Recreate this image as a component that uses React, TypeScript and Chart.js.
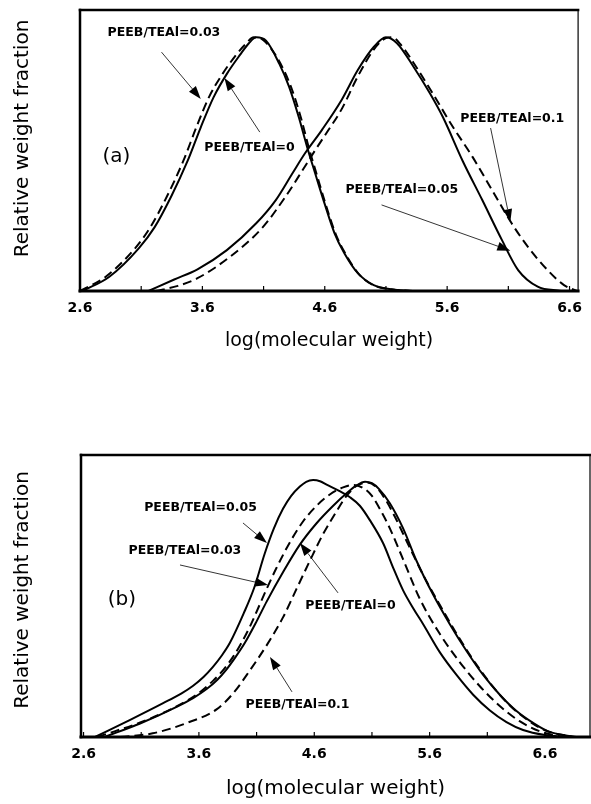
import React, { useEffect, useRef } from 'react';
import { Chart, registerables } from 'chart.js';

Chart.register(...registerables);

// ---------- Panel (a) data ----------
const aLogMW_0 = [2.62, 2.84, 3.08, 3.21, 3.345, 3.48, 3.586, 3.693, 3.80, 3.907, 3.98, 4.04, 4.12, 4.228, 4.308, 4.388, 4.455, 4.522, 4.60, 4.68, 4.76, 4.87, 5.0, 5.14, 5.32];
const aFrac_0 = [0, 0.056, 0.167, 0.25, 0.37, 0.51, 0.64, 0.76, 0.85, 0.924, 0.97, 0.993, 0.98, 0.89, 0.80, 0.68, 0.565, 0.46, 0.34, 0.226, 0.148, 0.07, 0.023, 0.007, 0];

const aLogMW_003 = [2.60, 2.81, 3.05, 3.175, 3.31, 3.445, 3.55, 3.655, 3.765, 3.875, 3.95, 4.02, 4.09, 4.16, 4.26, 4.335, 4.41, 4.47, 4.535, 4.61, 4.69, 4.77, 4.875, 5.0, 5.15, 5.3];
const aFrac_003 = [0, 0.056, 0.167, 0.25, 0.37, 0.51, 0.64, 0.76, 0.85, 0.924, 0.965, 0.993, 0.985, 0.95, 0.87, 0.785, 0.67, 0.56, 0.455, 0.335, 0.222, 0.145, 0.068, 0.022, 0.006, 0];

const aLogMW_005 = [3.16, 3.37, 3.56, 3.80, 4.04, 4.20, 4.335, 4.44, 4.576, 4.74, 4.87, 5.0, 5.10, 5.19, 5.325, 5.459, 5.566, 5.726, 5.887, 6.047, 6.18, 6.34, 6.53];
const aFrac_005 = [0, 0.045, 0.085, 0.16, 0.265, 0.356, 0.46, 0.54, 0.63, 0.75, 0.865, 0.955, 0.993, 0.97, 0.878, 0.774, 0.68, 0.51, 0.356, 0.2, 0.082, 0.017, 0];

const aLogMW_01 = [3.22, 3.40, 3.56, 3.826, 4.094, 4.28, 4.415, 4.52, 4.63, 4.736, 4.87, 5.0, 5.1, 5.15, 5.22, 5.35, 5.48, 5.646, 5.806, 5.967, 6.127, 6.26, 6.42, 6.555, 6.66];
const aFrac_01 = [0, 0.02, 0.05, 0.134, 0.25, 0.37, 0.47, 0.55, 0.63, 0.71, 0.84, 0.945, 0.99, 0.993, 0.965, 0.875, 0.775, 0.643, 0.526, 0.395, 0.265, 0.173, 0.082, 0.023, 0];

// ---------- Panel (b) data ----------
const bLogMW_005 = [2.70, 3.0, 3.29, 3.45, 3.55, 3.64, 3.72, 3.80, 3.87, 3.99, 4.08, 4.17, 4.25, 4.33, 4.40, 4.475, 4.53, 4.59, 4.65, 4.707, 4.82, 4.91, 4.995, 5.08, 5.197, 5.284, 5.37, 5.46, 5.544, 5.689, 5.833, 5.977, 6.12, 6.266, 6.41, 6.6, 6.78];
const bFrac_005 = [0, 0.06, 0.12, 0.155, 0.182, 0.213, 0.248, 0.29, 0.335, 0.44, 0.53, 0.65, 0.74, 0.81, 0.855, 0.888, 0.905, 0.911, 0.907, 0.895, 0.872, 0.85, 0.82, 0.77, 0.687, 0.60, 0.52, 0.455, 0.40, 0.30, 0.22, 0.15, 0.095, 0.053, 0.025, 0.007, 0];

const bLogMW_003 = [2.72, 3.147, 3.435, 3.58, 3.724, 3.81, 3.897, 3.97, 4.04, 4.187, 4.273, 4.388, 4.504, 4.62, 4.735, 4.85, 4.937, 5.02, 5.10, 5.18, 5.255, 5.37, 5.515, 5.689, 5.862, 6.035, 6.208, 6.38, 6.555, 6.75];
const bFrac_003 = [0, 0.06, 0.115, 0.15, 0.20, 0.237, 0.285, 0.335, 0.39, 0.525, 0.60, 0.69, 0.765, 0.82, 0.86, 0.885, 0.894, 0.884, 0.855, 0.80, 0.74, 0.63, 0.49, 0.365, 0.265, 0.18, 0.11, 0.056, 0.02, 0];

const bLogMW_0 = [2.78, 3.09, 3.407, 3.55, 3.667, 3.76, 3.84, 3.92, 4.0, 4.1, 4.187, 4.33, 4.475, 4.62, 4.764, 4.88, 4.966, 5.04, 5.10, 5.16, 5.255, 5.37, 5.486, 5.63, 5.775, 5.92, 6.064, 6.208, 6.353, 6.497, 6.64, 6.87];
const bFrac_0 = [0, 0.048, 0.107, 0.138, 0.17, 0.203, 0.24, 0.285, 0.335, 0.41, 0.48, 0.585, 0.682, 0.758, 0.82, 0.864, 0.892, 0.905, 0.90, 0.88, 0.829, 0.74, 0.625, 0.505, 0.40, 0.305, 0.22, 0.15, 0.092, 0.05, 0.018, 0];

const bLogMW_01 = [2.92, 3.2, 3.49, 3.753, 3.897, 4.04, 4.187, 4.33, 4.446, 4.562, 4.677, 4.793, 4.88, 4.966, 5.066, 5.14, 5.22, 5.30, 5.40, 5.55, 5.70, 5.85, 6.0, 6.15, 6.3, 6.45, 6.6, 6.85];
const bFrac_01 = [0, 0.013, 0.049, 0.098, 0.155, 0.235, 0.325, 0.425, 0.525, 0.625, 0.72, 0.80, 0.855, 0.89, 0.902, 0.885, 0.84, 0.78, 0.695, 0.57, 0.46, 0.355, 0.26, 0.178, 0.11, 0.06, 0.024, 0];

// ---------- Axes ----------
const xTickValues = [2.6, 3.1, 3.6, 4.1, 4.6, 5.1, 5.6, 6.1, 6.6];
const xTickLabels = ['2.6', '', '3.6', '', '4.6', '', '5.6', '', '6.6'];
const xTitle = 'log(molecular weight)';
const yTitle = 'Relative weight fraction';

// ---------- Annotations (data coordinates) ----------
type Note = { text: string; x: number; y: number; from?: [number, number]; to?: [number, number]; big?: boolean };

const aNotes: Note[] = [
  { text: 'PEEB/TEAl=0.03', x: 3.286, y: 1.01, from: [3.266, 0.935], to: [3.587, 0.752] },
  { text: 'PEEB/TEAl=0', x: 3.985, y: 0.562, from: [4.069, 0.622], to: [3.78, 0.834] },
  { text: 'PEEB/TEAl=0.1', x: 6.132, y: 0.673, from: [5.955, 0.638], to: [6.116, 0.27] },
  { text: 'PEEB/TEAl=0.05', x: 5.229, y: 0.395, from: [5.064, 0.337], to: [6.116, 0.158] },
  { text: '(a)', x: 2.897, y: 0.525, big: true },
];

const bNotes: Note[] = [
  { text: 'PEEB/TEAl=0.05', x: 3.614, y: 0.812, from: [3.982, 0.759], to: [4.19, 0.688] },
  { text: 'PEEB/TEAl=0.03', x: 3.479, y: 0.66, from: [3.436, 0.61], to: [4.199, 0.539] },
  { text: 'PEEB/TEAl=0', x: 4.914, y: 0.465, from: [4.806, 0.511], to: [4.476, 0.688] },
  { text: 'PEEB/TEAl=0.1', x: 4.455, y: 0.113, from: [4.407, 0.16], to: [4.216, 0.284] },
  { text: '(b)', x: 2.933, y: 0.486, big: true },
];

const framePlugin = {
  id: 'frame',
  afterDatasetsDraw(chart: any, _args: any, opts: any) {
    const { ctx, chartArea, scales } = chart;
    const { left, right, top, bottom } = chartArea;
    const xs = scales.x;
    const ys = scales.y;
    ctx.save();
    ctx.strokeStyle = '#000';
    ctx.fillStyle = '#000';
    ctx.setLineDash([]);
    const seg = (x0: number, y0: number, x1: number, y1: number, w: number) => {
      ctx.beginPath();
      ctx.lineWidth = w;
      ctx.moveTo(x0, y0);
      ctx.lineTo(x1, y1);
      ctx.stroke();
    };
    ctx.lineCap = 'square';
    seg(left, top, right, top, 2.5);
    seg(left, top, left, bottom, 2.5);
    seg(left, bottom, right, bottom, 3);
    seg(right, top, right, bottom, 1.2);
    ctx.lineCap = 'butt';
    xs.ticks.forEach((t: any) => {
      const px = xs.getPixelForValue(t.value);
      seg(px, bottom, px, bottom - 5, 1.2);
    });
    // y axis title
    ctx.save();
    ctx.translate(opts.yTitleX, (top + bottom) / 2 - opts.yTitleShift);
    ctx.rotate(-Math.PI / 2);
    ctx.font = '20px "DejaVu Sans"';
    ctx.textAlign = 'center';
    ctx.textBaseline = 'middle';
    ctx.fillText(yTitle, 0, 0);
    ctx.restore();
    (opts.notes || []).forEach((n: Note) => {
      const tx = xs.getPixelForValue(n.x);
      const ty = ys.getPixelForValue(n.y);
      ctx.font = n.big ? '20px "DejaVu Sans"' : 'bold 12.5px "DejaVu Sans"';
      ctx.textAlign = 'center';
      ctx.textBaseline = 'middle';
      ctx.fillText(n.text, tx, ty);
      if (n.from && n.to) {
        const x0 = xs.getPixelForValue(n.from[0]);
        const y0 = ys.getPixelForValue(n.from[1]);
        const x1 = xs.getPixelForValue(n.to[0]);
        const y1 = ys.getPixelForValue(n.to[1]);
        const ang = Math.atan2(y1 - y0, x1 - x0);
        const len = 13;
        const hw = 4.5;
        const bx = x1 - len * Math.cos(ang);
        const by = y1 - len * Math.sin(ang);
        seg(x0, y0, bx, by, 0.8);
        ctx.beginPath();
        ctx.moveTo(x1, y1);
        ctx.lineTo(bx + hw * Math.sin(ang), by - hw * Math.cos(ang));
        ctx.lineTo(bx - hw * Math.sin(ang), by + hw * Math.cos(ang));
        ctx.closePath();
        ctx.fill();
      }
    });
    ctx.restore();
  },
};

type Series = { label: string; x: number[]; y: number[]; dashed: boolean };
type Spec = {
  height: number;
  series: Series[];
  notes: Note[];
  xmin: number;
  xmax: number;
  ymax: number;
  padTop: number;
  padRight: number;
  padBottom: number;
  xAxisH: number;
  yAxisW: number;
  xTitleSize: number;
  xTitlePadBottom: number;
  yTitleShift: number;
};

function makeConfig(p: Spec): any {
  return {
    type: 'line',
    data: {
      datasets: p.series.map((s) => ({
        label: s.label,
        data: s.x.map((v, i) => ({ x: v, y: s.y[i] })),
        borderColor: '#000',
        borderWidth: 2,
        borderDash: s.dashed ? [9, 5] : [],
        pointRadius: 0,
        cubicInterpolationMode: 'monotone',
        fill: false,
      })),
    },
    options: {
      responsive: false,
      animation: false,
      events: [],
      layout: { padding: { top: p.padTop, right: p.padRight, left: 0, bottom: p.padBottom } },
      plugins: {
        legend: { display: false },
        tooltip: { enabled: false },
        frame: { notes: p.notes, yTitleX: 23, yTitleShift: p.yTitleShift },
      },
      scales: {
        x: {
          type: 'linear',
          min: p.xmin,
          max: p.xmax,
          grid: { display: false, drawTicks: false },
          border: { display: false },
          afterBuildTicks: (s: any) => {
            s.ticks = xTickValues.map((v) => ({ value: v }));
          },
          ticks: {
            autoSkip: false,
            maxRotation: 0,
            padding: 9,
            color: '#000',
            font: { family: 'DejaVu Sans', weight: 'bold', size: 14 },
            callback: (_v: any, i: number) => xTickLabels[i],
          },
          title: {
            display: true,
            text: xTitle,
            color: '#000',
            font: { family: 'DejaVu Sans', size: p.xTitleSize },
            padding: { top: 0, bottom: p.xTitlePadBottom },
          },
          afterFit: (s: any) => {
            s.height = p.xAxisH;
          },
        },
        y: {
          type: 'linear',
          min: 0,
          max: p.ymax,
          grid: { display: false, drawTicks: false },
          border: { display: false },
          ticks: { display: false },
          title: { display: false },
          afterFit: (s: any) => {
            s.width = p.yAxisW;
          },
        },
      },
    },
    plugins: [framePlugin],
  };
}

const specA: Spec = {
  height: 360,
  series: [
    { label: 'PEEB/TEAl=0', x: aLogMW_0, y: aFrac_0, dashed: false },
    { label: 'PEEB/TEAl=0.03', x: aLogMW_003, y: aFrac_003, dashed: true },
    { label: 'PEEB/TEAl=0.05', x: aLogMW_005, y: aFrac_005, dashed: false },
    { label: 'PEEB/TEAl=0.1', x: aLogMW_01, y: aFrac_01, dashed: true },
  ],
  notes: aNotes,
  xmin: 2.6,
  xmax: 6.67,
  ymax: 1.1,
  padTop: 10,
  padRight: 4,
  padBottom: 8,
  xAxisH: 61,
  yAxisW: 80,
  xTitleSize: 19,
  xTitlePadBottom: 0,
  yTitleShift: 12,
};

const specB: Spec = {
  height: 404,
  series: [
    { label: 'PEEB/TEAl=0.05', x: bLogMW_005, y: bFrac_005, dashed: false },
    { label: 'PEEB/TEAl=0.03', x: bLogMW_003, y: bFrac_003, dashed: true },
    { label: 'PEEB/TEAl=0', x: bLogMW_0, y: bFrac_0, dashed: false },
    { label: 'PEEB/TEAl=0.1', x: bLogMW_01, y: bFrac_01, dashed: true },
  ],
  notes: bNotes,
  xmin: 2.578,
  xmax: 6.99,
  ymax: 1.0,
  padTop: 55,
  padRight: 1,
  padBottom: 0,
  xAxisH: 67,
  yAxisW: 81,
  xTitleSize: 20,
  xTitlePadBottom: 3,
  yTitleShift: 6,
};

function Panel({ top, spec }: { top: number; spec: Spec }) {
  const ref = useRef<HTMLCanvasElement>(null);
  useEffect(() => {
    const chart = new Chart(ref.current as HTMLCanvasElement, makeConfig(spec));
    return () => chart.destroy();
  }, []);
  return (
    <div style={{ position: 'absolute', left: 0, top, width: 591, height: spec.height }}>
      <canvas ref={ref} width={591} height={spec.height} style={{ display: 'block' }} />
    </div>
  );
}

export default function App() {
  return (
    <div style={{ position: 'absolute', left: 0, top: 0, width: 591, height: 804, background: '#fff', overflow: 'hidden' }}>
      <Panel top={0} spec={specA} />
      <Panel top={400} spec={specB} />
    </div>
  );
}
